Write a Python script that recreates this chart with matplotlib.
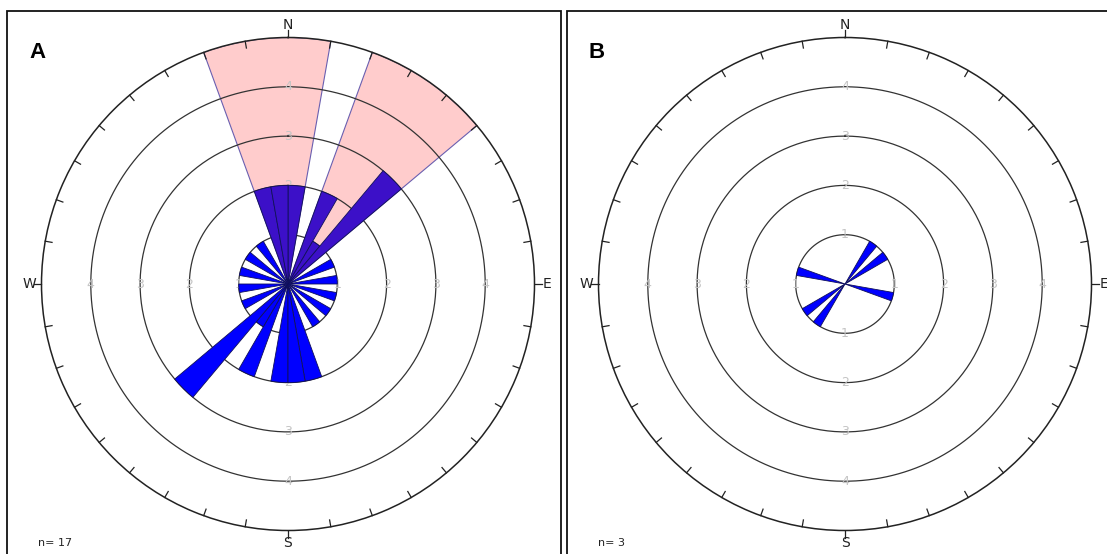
import numpy as np
import matplotlib
matplotlib.use('Agg')
import matplotlib.pyplot as plt
from matplotlib.patches import Rectangle

# axial orientations: start of each 10 degree bin (0-180) and how many readings fall in it
bins_a = [0, 20, 30, 40, 60, 80, 100, 120, 140, 160, 170]
counts_a = [2, 2, 1, 3, 1, 1, 1, 1, 1, 2, 2]
n_a = 17

bins_b = [30, 50, 100]
counts_b = [1, 1, 1]
n_b = 3

# highlighted direction sectors (start, end in degrees) for panel A
sectors_a = [(-20, 10), (20, 50)]
sectors_b = []

ring_values = [1, 2, 3, 4]
rmax = 5
cardinals = {0: 'N', 90: 'E', 180: 'S', 270: 'W'}

W, H = 1107, 554


def in_sector(deg, sectors):
    for s0, s1 in sectors:
        d = (deg - s0) % 360
        if d < (s1 - s0):
            return True
    return False


def rose(ax, bins, counts, sectors):
    ax.set_theta_zero_location('N')
    ax.set_theta_direction(-1)
    ax.set_ylim(0, rmax)
    ax.set_xticks([])
    ax.set_yticks([])
    ax.grid(False)
    ax.spines['polar'].set_linewidth(1.1)
    ax.spines['polar'].set_color('#222222')
    ax.patch.set_alpha(0)

    # shaded sectors
    for s0, s1 in sectors:
        ax.bar(np.deg2rad((s0 + s1) / 2), rmax, width=np.deg2rad(s1 - s0),
               color='#ffcccc', edgecolor='#6a5fb0', linewidth=0.8, zorder=1)

    # rings
    t = np.linspace(0, 2 * np.pi, 400)
    for r in ring_values:
        ax.plot(t, np.full_like(t, r), color='#333333', lw=0.9, zorder=2)
        for a in cardinals:
            ax.text(np.deg2rad(a), r, str(r), ha='center', va='center',
                    color='#c4c4c4', fontsize=9, zorder=2.5)

    # petals, each bin drawn at both ends of the axis
    for b, c in zip(bins, counts):
        for start in (b, b + 180):
            mid = start + 5
            col = '#3c10c8' if in_sector(mid, sectors) else '#0000ff'
            ax.bar(np.deg2rad(mid), c, width=np.deg2rad(10), color=col,
                   edgecolor='#10105a', linewidth=0.6, zorder=3)

    # 10 degree ticks, cardinal ticks point outward
    for a in range(0, 360, 10):
        th = np.deg2rad(a)
        if a in cardinals:
            ax.plot([th, th], [rmax, rmax + 0.15], color='#222222', lw=0.9,
                    clip_on=False, zorder=4)
            ax.text(th, rmax + 0.25, cardinals[a], ha='center', va='center',
                    fontsize=10, color='#222222', clip_on=False)
        else:
            ax.plot([th, th], [rmax, rmax - 0.14], color='#222222', lw=0.9,
                    clip_on=False, zorder=4)


fig = plt.figure(figsize=(W / 100, H / 100), dpi=100)

rad = 246.5
cy = 284
for cx, bins, counts, sectors, tag, n, fx in [
        (288, bins_a, counts_a, sectors_a, 'A', n_a, 7),
        (845, bins_b, counts_b, sectors_b, 'B', n_b, 567)]:
    ax = fig.add_axes([(cx - rad) / W, (H - cy - rad) / H, 2 * rad / W, 2 * rad / H],
                      projection='polar')
    rose(ax, bins, counts, sectors)
    fig.patches.append(Rectangle((fx / W, -0.1), 554 / W, 1.1 - 11 / H, fill=False,
                                 lw=1.3, edgecolor='#111111', transform=fig.transFigure))
    fig.text((fx + 30) / W, 1 - 52 / H, tag, ha='center', va='center', fontsize=16,
             fontweight='bold', family='Liberation Sans')
    fig.text((fx + 31) / W, 1 - 543 / H, 'n= %d' % n, ha='left', va='center',
             fontsize=8, color='#222222')

fig.savefig('out.png', dpi=100)
